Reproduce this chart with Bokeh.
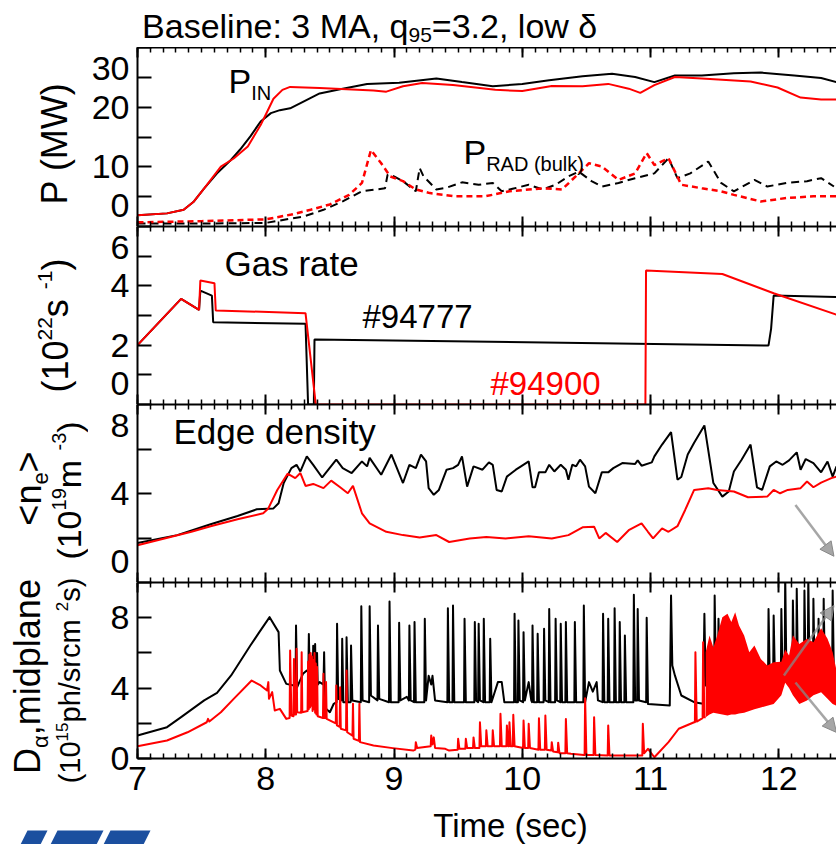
import math
from bokeh.plotting import figure
from bokeh.models import Range1d, LinearAxis, FixedTicker, SingleIntervalTicker, Label, Arrow, NormalHead
from bokeh.layouts import column, row
from bokeh.embed import file_html
from bokeh.resources import INLINE

# ---------------- data ----------------
# Panel 1: power (MW)
pin_t_94777 = [7.0, 7.23, 7.36, 7.44, 7.52, 7.62, 7.73, 7.80, 7.88, 7.96, 8.04, 8.11, 8.19, 8.29, 8.42, 8.58, 8.79,
               9.04, 9.33, 9.53, 9.77, 10.0, 10.21, 10.47, 10.70, 10.88, 11.03, 11.19, 11.40, 11.65, 11.86, 12.12,
               12.33, 12.45]
pin_94777 = [1.9, 2.2, 2.8, 4.2, 6.4, 8.9, 11.2, 12.9, 15.1, 17.6, 19.0, 19.5, 19.8, 20.9, 22.3, 23.0, 23.9,
             24.1, 24.8, 24.2, 23.5, 23.9, 24.5, 25.2, 25.6, 25.05, 24.2, 25.3, 25.3, 25.7, 25.8, 25.3,
             24.9, 24.2]
pin_t_94900 = [7.0, 7.23, 7.36, 7.44, 7.52, 7.65, 7.75, 7.86, 7.96, 8.01, 8.06, 8.13, 8.19, 8.42, 8.63, 8.84, 8.94,
               9.07, 9.22, 9.46, 9.79, 10.0, 10.23, 10.47, 10.67, 10.83, 10.92, 11.03, 11.19, 11.40, 11.78, 11.99,
               12.17, 12.33, 12.45]
pin_94900 = [1.9, 2.2, 2.8, 4.2, 6.4, 10.05, 11.4, 13.4, 17.0, 19.2, 21.4, 22.9, 23.4, 23.2, 23.0, 22.8, 22.6,
             23.5, 24.05, 23.7, 22.9, 22.7, 23.55, 23.5, 23.9, 23.1, 22.4, 23.7, 25.05, 24.8, 24.3, 23.3,
             21.6, 21.3, 21.3]
prad_t_94777 = [7.0, 7.5, 8.0, 8.3, 8.45, 8.6, 8.75, 8.93, 8.95, 9.0, 9.07, 9.17, 9.20, 9.23, 9.33, 9.41, 9.53,
                9.66, 9.77, 9.84, 9.94, 10.05, 10.16, 10.26, 10.36, 10.44, 10.54, 10.62, 10.75, 10.88, 11.03,
                11.14, 11.21, 11.31, 11.45, 11.55, 11.65, 11.81, 11.91, 12.06, 12.22, 12.33, 12.43]
prad_94777 = [0.5, 0.5, 0.6, 1.7, 2.8, 4.2, 5.9, 6.4, 8.7, 8.4, 7.6, 5.9, 9.8, 8.4, 6.2, 6.5, 7.4,
              7.0, 7.3, 5.9, 6.4, 7.0, 6.2, 7.0, 8.4, 9.2, 7.6, 6.7, 7.3, 8.1, 8.9,
              11.45, 8.1, 8.9, 10.9, 7.3, 5.9, 7.8, 6.7, 7.3, 7.6, 8.1, 6.7]
prad_t_94900 = [7.0, 7.5, 8.0, 8.2, 8.35, 8.5, 8.65, 8.75, 8.82, 8.9, 8.97, 9.07, 9.17, 9.28, 9.48, 9.71, 9.9,
                10.16, 10.31, 10.44, 10.52, 10.62, 10.75, 10.88, 10.97, 11.03, 11.14, 11.24, 11.40, 11.55, 11.65,
                11.86, 12.07, 12.27, 12.45]
prad_94900 = [0.7, 0.9, 1.2, 2.0, 2.8, 3.7, 5.3, 7.3, 12.8, 10.6, 8.4, 7.6, 6.2, 5.6, 5.05, 5.05, 5.9,
              6.4, 6.2, 8.9, 10.6, 10.05, 7.8, 8.9, 12.3, 10.3, 11.45, 7.0, 6.4, 5.9, 5.3,
              4.2, 4.8, 5.05, 5.05]

# Panel 2: gas rate (1e22 /s)
gas_t_94777 = [7.0, 7.34, 7.48, 7.49, 7.58, 7.59, 8.31, 8.33, 8.375, 8.38, 11.92, 11.94, 11.96, 12.45]
gas_94777 = [2.0, 3.56, 3.19, 3.84, 3.67, 2.77, 2.72, 0.0, 0.0, 2.19, 1.99, 2.55, 3.67, 3.62]
gas_t_94900 = [7.0, 7.34, 7.48, 7.49, 7.60, 7.61, 8.31, 8.39, 10.96, 10.965, 11.56, 11.96, 12.45]
gas_94900 = [2.0, 3.56, 3.19, 4.18, 4.09, 3.17, 3.08, 0.0, 0.0, 4.52, 4.40, 3.75, 3.03]

# Panel 3: edge density (1e19 m^-3)
ne_t_94777 = [7.0, 7.31, 7.57, 7.78, 7.93, 8.06, 8.10, 8.14, 8.20, 8.24,
              8.27, 8.32, 8.37, 8.44, 8.55, 8.60, 8.67, 8.75, 8.79, 8.81,
              8.90, 8.98, 9.07, 9.12, 9.17, 9.21, 9.25, 9.27, 9.31, 9.35,
              9.41, 9.46, 9.50, 9.53, 9.57, 9.62, 9.69, 9.74, 9.77, 9.80,
              9.84, 9.88, 9.95, 9.99, 10.05, 10.08, 10.10, 10.13, 10.18, 10.21,
              10.25, 10.30, 10.34, 10.36, 10.39, 10.42, 10.45, 10.49, 10.52, 10.57,
              10.62, 10.67, 10.71, 10.78, 10.88, 10.90, 10.93, 11.01, 11.03, 11.09,
              11.16, 11.21, 11.24, 11.29, 11.34, 11.42, 11.49, 11.56, 11.61, 11.65,
              11.71, 11.78, 11.83, 11.87, 11.93, 11.98, 12.03, 12.08, 12.14, 12.17,
              12.21, 12.27, 12.33, 12.38, 12.42, 12.45]
ne_94777 = [1.78, 2.13, 2.62, 2.99, 3.29, 3.33, 3.56, 4.47, 5.14, 5.29,
            4.99, 5.67, 5.29, 4.72, 5.52, 5.14, 4.92, 5.44, 5.22, 5.6,
            4.84, 5.75, 4.47, 5.29, 5.14, 5.75, 5.44, 4.24, 3.94, 4.16,
            5.07, 5.14, 5.29, 5.67, 4.31, 5.22, 5.07, 5.4, 5.29, 4.16,
            4.09, 4.76, 5.07, 5.22, 5.44, 4.28, 4.28, 4.95, 4.95, 5.29,
            4.99, 5.29, 5.07, 4.62, 5.29, 5.22, 5.52, 5.22, 4.31, 4.01,
            4.95, 4.95, 5.14, 5.37, 5.33, 5.49, 5.25, 5.40, 5.67, 6.2,
            6.76, 4.62, 4.74, 5.75, 6.28, 7.06, 4.47, 3.86, 4.09, 4.99,
            5.52, 6.2, 4.28, 4.16, 5.22, 5.44, 5.29, 5.49, 5.85, 5.07,
            5.55, 5.37, 4.95, 5.44, 4.76, 5.22]
ne_t_94900 = [7.0, 7.42, 7.57, 7.78, 7.98, 8.02, 8.09, 8.17, 8.23, 8.27,
              8.31, 8.37, 8.45, 8.51, 8.58, 8.64, 8.68, 8.75, 8.81, 8.94,
              9.07, 9.2, 9.33, 9.43, 9.59, 9.72, 9.87, 10.05, 10.23, 10.36,
              10.47, 10.56, 10.60, 10.65, 10.74, 10.83, 10.93, 10.98, 11.02, 11.09,
              11.14, 11.21, 11.27, 11.34, 11.45, 11.52, 11.65, 11.76, 11.91, 11.96,
              12.01, 12.07, 12.17, 12.22, 12.27, 12.33, 12.41, 12.45]
ne_94900 = [1.67, 2.28, 2.53, 2.84, 3.11, 3.33, 4.16, 4.89, 4.69, 4.92,
            4.34, 4.43, 4.24, 4.58, 4.28, 4.01, 4.34, 3.11, 2.66, 2.28,
            2.13, 2.02, 2.13, 1.82, 1.98, 2.05, 1.98, 2.08, 1.98, 2.13,
            2.48, 2.51, 1.98, 2.23, 1.82, 2.35, 2.66, 2.28, 1.98, 2.43,
            2.28, 2.53, 3.26, 4.16, 4.24, 4.16, 4.09, 3.83, 3.86, 4.16,
            4.01, 4.16, 4.24, 4.54, 4.28, 4.49, 4.69, 4.76]

# Panel 4: D-alpha midplane (1e15 ph/sr cm^2 s), ELM spikes as (before, peak, after) samples
da_t_94777 = [7.00, 7.23, 7.34, 7.52, 7.62, 7.73, 7.88, 7.95, 8.03, 8.10, 8.11, 8.16, 8.22,
              8.232, 8.236, 8.245, 8.29, 8.32, 8.332, 8.336, 8.345, 8.365, 8.37, 8.375, 8.385,
              8.39, 8.40, 8.405, 8.42, 8.45, 8.455, 8.462, 8.47, 8.50, 8.53, 8.552, 8.556,
              8.565, 8.592, 8.596, 8.605, 8.626, 8.63, 8.64, 8.661, 8.665, 8.675, 8.741, 8.745,
              8.755, 8.806, 8.81, 8.82, 8.871, 8.875, 8.885, 8.961, 8.965, 8.975, 9.036, 9.04,
              9.05, 9.10, 9.116, 9.12, 9.13, 9.156, 9.16, 9.17, 9.236, 9.24, 9.25, 9.27,
              9.29, 9.30, 9.32, 9.416, 9.42, 9.43, 9.456, 9.46, 9.47, 9.546, 9.55, 9.56,
              9.626, 9.63, 9.64, 9.656, 9.66, 9.67, 9.696, 9.70, 9.71, 9.746, 9.75, 9.76,
              9.81, 9.84, 9.86, 9.936, 9.94, 9.95, 9.966, 9.97, 9.98, 10.006, 10.01, 10.02,
              10.05, 10.07, 10.076, 10.08, 10.09, 10.116, 10.12, 10.13, 10.166, 10.17, 10.18, 10.206,
              10.21, 10.22, 10.256, 10.26, 10.27, 10.296, 10.30, 10.31, 10.336, 10.34, 10.35, 10.406,
              10.41, 10.42, 10.476, 10.48, 10.49, 10.52, 10.55, 10.58, 10.59, 10.626, 10.63, 10.64,
              10.666, 10.67, 10.68, 10.716, 10.72, 10.73, 10.756, 10.76, 10.77, 10.796, 10.80, 10.81,
              10.866, 10.87, 10.88, 10.896, 10.90, 10.91, 10.966, 10.97, 10.98, 11.15, 11.16, 11.17,
              11.19, 11.24, 11.34, 11.41, 11.42, 11.43, 11.496, 11.50, 11.51, 11.526, 11.53, 11.54,
              11.60, 11.75, 11.91, 11.916, 11.92, 11.93, 11.956, 11.96, 11.97, 12.016, 12.02, 12.03,
              12.046, 12.05, 12.06, 12.106, 12.11, 12.12, 12.136, 12.14, 12.15, 12.196, 12.20, 12.21,
              12.226, 12.23, 12.24, 12.266, 12.27, 12.28, 12.306, 12.31, 12.32, 12.346, 12.35, 12.36,
              12.416, 12.42, 12.43, 12.45]
da_94777 = [1.31, 1.78, 2.35, 3.30, 3.73, 4.72, 6.42, 7.18, 8.03, 7.18, 5.00, 4.24, 4.15,
            4.10, 7.56, 4.05, 4.81, 5.00, 4.90, 7.07, 4.15, 4.40, 6.40, 4.30, 6.50,
            4.40, 6.00, 4.20, 4.34, 4.20, 6.04, 3.20, 2.82, 2.63, 3.11, 3.20, 7.65,
            3.39, 3.30, 6.80, 3.20, 3.20, 6.89, 3.20, 3.20, 6.42, 3.30, 3.20, 8.65,
            3.30, 3.20, 8.65, 3.58, 3.30, 7.56, 3.39, 3.20, 8.92, 3.20, 3.20, 7.71,
            3.30, 3.50, 3.30, 7.56, 3.30, 3.20, 7.75, 3.20, 3.20, 7.94, 3.30, 4.70,
            4.20, 4.70, 3.30, 3.20, 8.54, 3.20, 3.20, 8.69, 3.20, 3.20, 7.94, 3.20,
            3.20, 7.75, 3.30, 3.20, 7.65, 3.30, 3.20, 7.94, 3.20, 3.20, 6.80, 3.20,
            4.34, 4.34, 3.20, 3.20, 8.22, 3.20, 3.20, 7.84, 3.30, 3.20, 7.18, 3.30,
            4.34, 3.30, 3.20, 7.56, 3.20, 3.20, 7.09, 3.20, 3.20, 7.37, 3.30, 3.20,
            8.50, 3.20, 3.20, 7.94, 3.30, 3.20, 7.65, 3.20, 3.20, 7.75, 3.20, 3.20,
            7.75, 3.20, 3.20, 8.69, 3.20, 4.34, 3.80, 4.34, 3.30, 3.20, 8.22, 3.20,
            3.20, 7.94, 3.20, 3.20, 8.54, 3.20, 3.20, 7.75, 3.20, 3.20, 6.99, 3.20,
            3.20, 9.30, 3.30, 3.30, 8.50, 3.30, 3.20, 8.00, 3.10, 3.01, 9.26, 5.28,
            4.72, 3.58, 3.20, 3.11, 8.22, 4.15, 4.00, 9.26, 4.50, 4.40, 7.94, 4.60,
            4.20, 4.00, 4.40, 4.40, 8.50, 4.50, 4.50, 8.13, 4.50, 4.50, 8.50, 4.50,
            4.50, 10.50, 4.50, 4.50, 8.98, 4.50, 4.50, 9.64, 4.60, 4.50, 9.55, 4.50,
            4.50, 10.50, 4.40, 4.40, 9.07, 4.50, 4.50, 7.94, 4.50, 4.50, 9.07, 4.50,
            4.50, 9.55, 4.50, 4.60]
da_t_94900 = [7.00, 7.23, 7.39, 7.54, 7.55, 7.56, 7.65, 7.75, 7.89, 7.96, 8.01, 8.02,
              8.025, 8.05, 8.07, 8.11, 8.16, 8.186, 8.19, 8.20, 8.216, 8.22, 8.225, 8.236,
              8.24, 8.245, 8.276, 8.28, 8.285, 8.326, 8.33, 8.335, 8.34, 8.345, 8.35, 8.355,
              8.36, 8.365, 8.37, 8.375, 8.38, 8.385, 8.39, 8.395, 8.40, 8.405, 8.446, 8.45,
              8.455, 8.466, 8.47, 8.475, 8.546, 8.55, 8.555, 8.576, 8.58, 8.585, 8.626, 8.63,
              8.635, 8.676, 8.68, 8.685, 8.726, 8.73, 8.735, 8.84, 8.99, 9.15, 9.166, 9.17,
              9.18, 9.286, 9.29, 9.30, 9.31, 9.32, 9.40, 9.43, 9.496, 9.50, 9.51, 9.556,
              9.56, 9.57, 9.616, 9.62, 9.63, 9.666, 9.67, 9.68, 9.716, 9.72, 9.73, 9.766,
              9.77, 9.78, 9.826, 9.83, 9.84, 9.876, 9.88, 9.89, 9.896, 9.90, 9.91, 9.926,
              9.93, 9.94, 10.006, 10.01, 10.02, 10.046, 10.05, 10.06, 10.126, 10.13, 10.14, 10.176,
              10.18, 10.19, 10.226, 10.23, 10.24, 10.276, 10.28, 10.29, 10.336, 10.34, 10.35, 10.38,
              10.48, 10.486, 10.49, 10.50, 10.556, 10.56, 10.57, 10.666, 10.67, 10.68, 10.90, 10.936,
              10.94, 10.95, 10.98, 11.03, 11.14, 11.22, 11.34, 11.346, 11.35, 11.36, 11.406, 11.41,
              11.42, 11.43]
da_94900 = [0.70, 1.02, 1.49, 2.06, 2.25, 2.10, 2.63, 3.39, 4.43, 4.15, 3.86, 4.34,
            3.39, 3.77, 2.73, 2.82, 2.25, 2.30, 6.14, 2.44, 2.40, 5.66, 2.50, 2.50,
            6.23, 2.63, 2.60, 6.04, 2.63, 2.70, 5.50, 2.80, 5.90, 2.90, 6.00, 3.00,
            5.80, 2.70, 5.60, 2.80, 6.00, 2.60, 5.40, 2.50, 5.20, 2.40, 2.30, 4.81,
            2.30, 2.30, 4.34, 2.25, 2.00, 4.15, 1.88, 1.80, 4.05, 1.69, 1.60, 5.00,
            1.49, 1.30, 3.11, 1.12, 1.00, 3.11, 0.93, 0.74, 0.59, 0.45, 0.50, 0.93,
            0.60, 0.70, 1.31, 0.80, 1.20, 0.60, 0.55, 0.45, 0.50, 1.12, 0.55, 0.55,
            1.12, 0.60, 0.60, 1.20, 0.60, 0.60, 2.06, 0.70, 0.70, 1.60, 0.70, 0.70,
            1.60, 0.70, 0.70, 2.54, 0.70, 0.70, 1.88, 0.70, 0.70, 2.06, 0.70, 0.70,
            2.48, 0.70, 0.60, 2.16, 0.60, 0.60, 1.97, 0.60, 0.50, 2.29, 0.50, 0.50,
            2.44, 0.50, 0.45, 0.93, 0.40, 0.35, 0.90, 0.30, 0.30, 2.25, 0.30, 0.27,
            0.20, 0.20, 3.43, 0.20, 0.20, 2.35, 0.20, 0.17, 1.88, 0.17, 0.17, 0.17,
            1.97, 0.30, 0.55, 0.07, 0.93, 1.69, 2.06, 2.06, 6.04, 2.10, 2.30, 6.61,
            2.35, 2.35]
# dense ELM band of #94900 after ~11.43 s (lower / upper envelope)
band_t_94900 = [11.43, 11.46, 11.49, 11.52, 11.56, 11.60, 11.63, 11.66, 11.69, 11.73,
                11.77, 11.81, 11.86, 11.91, 11.96, 12.02, 12.05, 12.08, 12.11, 12.16,
                12.22, 12.27, 12.33, 12.38, 12.42, 12.45]
band_lo_94900 = [2.35, 2.50, 2.60, 2.55, 2.50, 2.45, 2.50, 2.50, 2.55, 2.60,
                 2.70, 2.80, 2.90, 3.00, 3.10, 3.60, 4.30, 4.00, 3.60, 3.10,
                 3.30, 3.60, 3.77, 3.40, 3.10, 3.00]
band_hi_94900 = [6.04, 6.99, 6.30, 6.99, 8.03, 8.22, 7.75, 8.31, 7.56, 6.99,
                 6.04, 6.42, 5.66, 5.28, 5.47, 5.50, 6.20, 5.85, 7.00, 6.50,
                 6.80, 6.60, 7.40, 6.80, 6.04, 5.00]

# grey annotation arrows (cropped at the right edge): x0, y0, x1, y1
arrows_ne = [(12.13, 3.48, 12.43, 1.18)]
arrows_da = [(12.04, 4.72, 12.43, 8.69), (12.13, 4.32, 12.45, 1.48)]

# ---------------- layout helpers ----------------
FONT = "Liberation Sans"
RED = "#ff0000"
TOTAL_W = 836
LW = 88            # width of the strip holding the rotated axis titles
PW = TOTAL_W - LW  # width of the panel figures
xr = Range1d(7.0, 12.45)

ARIAL = {' ': 278, '(': 333, ')': 333, ',': 278, '-': 333, '.': 278, '/': 278, ':': 278, '=': 584,
         '<': 584, '>': 584, '#': 556, 'A': 667, 'B': 667, 'D': 722, 'E': 667, 'G': 778, 'I': 278,
         'M': 833, 'N': 722, 'P': 667, 'R': 722, 'T': 611, 'W': 944, 'a': 556, 'b': 556, 'c': 500,
         'd': 556, 'e': 556, 'g': 556, 'h': 556, 'i': 222, 'k': 500, 'l': 222, 'm': 833, 'n': 556,
         'o': 556, 'p': 556, 'q': 556, 'r': 333, 's': 500, 't': 278, 'u': 556, 'w': 722, 'y': 500,
         'α': 578, 'δ': 556}
MID = 0.35  # distance from baseline to the text's vertical centre, in em


def tw(s):
    return sum(ARIAL.get(c, 556) for c in s) / 1000.0


def put(p, ox, oy, x, y, text, size, color="black", angle=0.0, align="left"):
    # (x, y) is the baseline point of the text in page pixels; the label is anchored at its centre line
    if angle == 0.0:
        ax, ay = x, y - MID * size
    else:
        ax, ay = x - MID * size, y
    p.add_layout(Label(x=ax - ox, y=ay - oy, x_units="canvas", y_units="canvas", text=text,
                       text_font=FONT, text_font_size=f"{size}px", text_color=color,
                       text_align=align, text_baseline="middle", angle=angle))


def hrun(p, ox, oy, x, y, pieces, color="black"):
    for text, size, shift in pieces:
        put(p, ox, oy, x, y - shift, text, size, color)
        x += tw(text) * size


def vrun(p, ox, oy, x, yc, pieces):
    y = yc + sum(tw(t) * s for t, s, _ in pieces) / 2
    for text, size, shift in pieces:
        put(p, ox, oy, x - shift, y, text, size, angle=math.pi / 2)
        y -= tw(text) * size


def blank(width, height):
    p = figure(width=width, height=height, x_range=Range1d(0, width), y_range=Range1d(0, height),
               output_backend="svg", toolbar_location=None, x_axis_type=None, y_axis_type=None,
               min_border=0)
    p.outline_line_color = None
    p.background_fill_color = "white"
    p.border_fill_color = "white"
    return p


def make_panel(height, ymax, label_ticks, labels, mark_ticks, bottom, xlabels=False):
    p = figure(width=PW, height=height, x_range=xr, y_range=Range1d(0, ymax),
               output_backend="svg", toolbar_location=None,
               x_axis_type=None, y_axis_type=None,
               min_border=0, min_border_left=45, min_border_right=0,
               min_border_top=0, min_border_bottom=bottom)
    p.outline_line_color = None
    p.background_fill_color = "white"
    p.border_fill_color = "white"

    # tick marks are all drawn as (equal length) minor ticks; labels at the frame edges are set
    # just inside the panel so that they are not cut by the neighbouring panel
    ya = LinearAxis(ticker=FixedTicker(ticks=label_ticks, minor_ticks=mark_ticks))
    ya.major_label_overrides = dict(zip(label_ticks, labels))
    ya.axis_line_width = 2
    ya.major_tick_in = 0
    ya.major_tick_out = 0
    ya.minor_tick_in = 14
    ya.minor_tick_out = 0
    ya.minor_tick_line_width = 2
    ya.major_label_text_font = FONT
    ya.major_label_text_font_size = "34px"
    ya.major_label_text_color = "black"
    ya.major_label_standoff = 8
    p.add_layout(ya, "left")

    for loc in ("above", "below"):
        xa = LinearAxis(ticker=SingleIntervalTicker(interval=1, num_minor_ticks=10))
        xa.axis_line_width = 2
        xa.major_tick_in = 10
        xa.major_tick_out = 0
        xa.minor_tick_in = 5
        xa.minor_tick_out = 0
        xa.major_tick_line_width = 2
        xa.minor_tick_line_width = 1.5
        if loc == "below" and xlabels:
            xa.major_label_text_font = FONT
            xa.major_label_text_font_size = "34px"
            xa.major_label_text_color = "black"
            xa.major_label_standoff = 8
        else:
            xa.major_label_text_font_size = "0px"
            xa.major_label_text_color = None
            xa.major_label_standoff = 0
        p.add_layout(xa, loc)
    return p


TOP1, TOP2, TOP3, TOP4 = 47, 226, 404, 582
B4 = 49

# ---------------- title strip ----------------
title_fig = blank(TOTAL_W, TOP1)
hrun(title_fig, 0, 0, 408 - tw("Baseline: 3 MA, q") * 34, 37,
     [("Baseline: 3 MA, q", 34, 0), ("95", 21, -5), ("=3.2, low δ", 34, 0)])

# ---------------- panel 1: power ----------------
p1 = make_panel(179, 30, [3.5, 10, 20, 26.5], ["0", "10", "20", "30"], [0, 5, 10, 15, 20, 25, 30], 0)
p1.line(pin_t_94777, pin_94777, line_color="black", line_width=2)
p1.line(prad_t_94777, prad_94777, line_color="black", line_width=2, line_dash="8 5")
p1.line(pin_t_94900, pin_94900, line_color=RED, line_width=2)
p1.line(prad_t_94900, prad_94900, line_color=RED, line_width=2.5, line_dash="6 4")
hrun(p1, LW, TOP1, 228, 92, [("P", 34, 0), ("IN", 20, -7)])
hrun(p1, LW, TOP1, 463, 163, [("P", 34, 0), ("RAD (bulk)", 20, -7)])

# ---------------- panel 2: gas rate ----------------
p2 = make_panel(178, 6, [0.71, 2, 4, 5.29], ["0", "2", "4", "6"], [0, 1, 2, 3, 4, 5, 6], 0)
p2.line(gas_t_94777, gas_94777, line_color="black", line_width=2)
p2.line(gas_t_94900, gas_94900, line_color=RED, line_width=2)
put(p2, LW, TOP2, 224, 275, "Gas rate", 35)
put(p2, LW, TOP2, 362, 328, "#94777", 33)
put(p2, LW, TOP2, 490, 395, "#94900", 33, color=RED)

# ---------------- panel 3: edge density ----------------
p3 = make_panel(178, 8, [0.95, 4, 7.05], ["0", "4", "8"], [0, 2, 4, 6, 8], 0)
p3.line(ne_t_94777, ne_94777, line_color="black", line_width=2)
p3.line(ne_t_94900, ne_94900, line_color=RED, line_width=2)
for x0, y0, x1, y1 in arrows_ne:
    p3.add_layout(Arrow(x_start=x0, y_start=y0, x_end=x1, y_end=y1, line_color="#888888",
                        line_width=2.5, line_alpha=0.75,
                        end=NormalHead(size=14, fill_color="#888888", line_color="#888888", fill_alpha=0.75)))
put(p3, LW, TOP3, 173, 443, "Edge density", 35)

# ---------------- panel 4: D-alpha ----------------
p4 = make_panel(176 + B4, 10, [0, 4, 8], ["0", "4", "8"], [0, 2, 4, 6, 8, 10], B4, xlabels=True)
p4.line(da_t_94777, da_94777, line_color="black", line_width=2, line_join="round")
p4.varea(x=band_t_94900, y1=band_lo_94900, y2=band_hi_94900, fill_color=RED)
p4.line(da_t_94900, da_94900, line_color=RED, line_width=2, line_join="round")
for x0, y0, x1, y1 in arrows_da:
    p4.add_layout(Arrow(x_start=x0, y_start=y0, x_end=x1, y_end=y1, line_color="#888888",
                        line_width=2.5, line_alpha=0.75,
                        end=NormalHead(size=14, fill_color="#888888", line_color="#888888", fill_alpha=0.75)))

# ---------------- rotated axis titles strip ----------------
ylab = blank(LW, 711 + B4)
vrun(ylab, 0, TOP1, 67, 143, [("P (MW)", 36, 0)])
vrun(ylab, 0, TOP1, 68, 325, [("(10", 36, 0), ("22", 21, 16), (" s", 36, 0), ("-1", 21, 16), (")", 36, 0)])
vrun(ylab, 0, TOP1, 41, 488, [("<n", 36, 0), ("e", 22, -7), (">", 36, 0)])
vrun(ylab, 0, TOP1, 80, 490, [("(10", 34, 0), ("19", 20, 15), (" m", 34, 0), ("-3", 20, 15), (")", 34, 0)])
vrun(ylab, 0, TOP1, 40, 676, [("D", 36, 0), ("α", 22, -8), (",midplane", 36, 0)])
vrun(ylab, 0, TOP1, 80, 680, [("(10", 29, 0), ("15", 17, 13), (" ph/srcm", 29, 0), ("2", 17, 13), ("s)", 29, 0)])

# ---------------- bottom strip: axis title + cropped logo ----------------
BOT_TOP = TOP1 + 711 + B4
bot = blank(TOTAL_W, 844 - BOT_TOP)
put(bot, 0, BOT_TOP, 510, 837, "Time (sec)", 33, align="center")
H = 844 - BOT_TOP
logo_x = [[20, 27, 47, 40], [50, 57, 103, 96], [103, 110, 150, 143]]
logo_y = [[0, H - (830 - BOT_TOP), H - (830 - BOT_TOP), 0]] * 3
bot.patches(logo_x, logo_y, fill_color="#1b4f9f", line_color=None)

layout = column(title_fig, row(ylab, column(p1, p2, p3, p4)), bot)
open("out.html", "w").write(file_html(layout, INLINE))
